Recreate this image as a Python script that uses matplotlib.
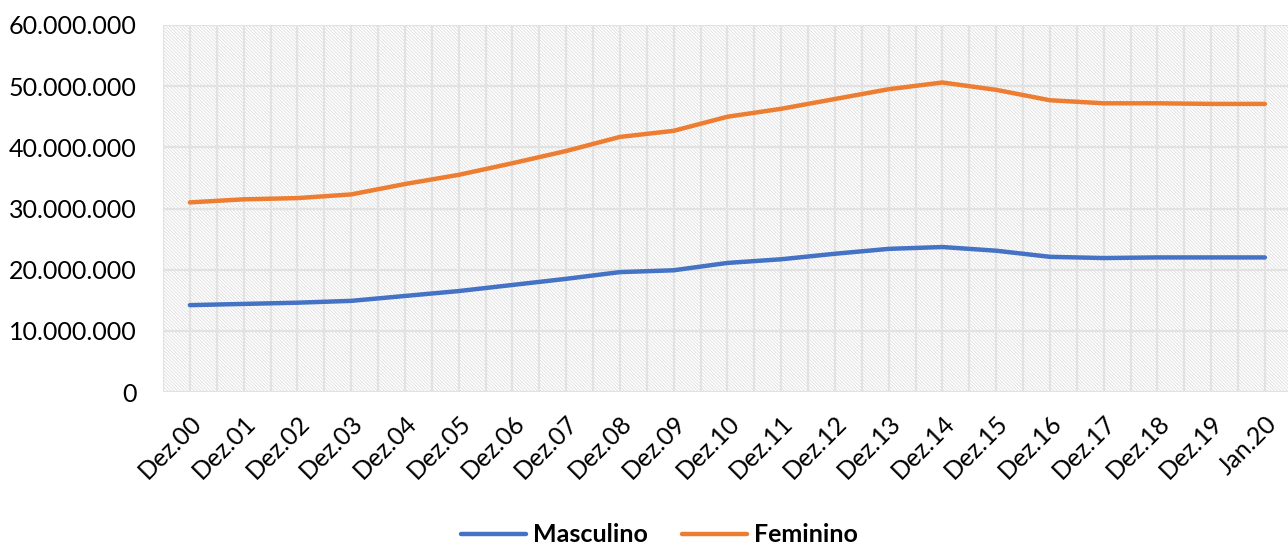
import matplotlib
matplotlib.use("Agg")
from matplotlib import pyplot as plt
from matplotlib.patches import Rectangle
from matplotlib.ticker import FuncFormatter, MultipleLocator

categories = ["Dez.00", "Dez.01", "Dez.02", "Dez.03", "Dez.04", "Dez.05", "Dez.06",
              "Dez.07", "Dez.08", "Dez.09", "Dez.10", "Dez.11", "Dez.12", "Dez.13",
              "Dez.14", "Dez.15", "Dez.16", "Dez.17", "Dez.18", "Dez.19", "Jan.20"]
masculino = [14.2, 14.4, 14.6, 14.9, 15.7, 16.5, 17.5, 18.5, 19.6, 19.9, 21.1,
             21.7, 22.6, 23.4, 23.7, 23.1, 22.1, 21.9, 22.0, 22.0, 22.0]
feminino = [31.0, 31.5, 31.7, 32.3, 34.0, 35.5, 37.4, 39.4, 41.7, 42.7, 45.0,
            46.3, 47.9, 49.5, 50.6, 49.4, 47.7, 47.2, 47.2, 47.1, 47.1]
masculino = [v * 1e6 for v in masculino]
feminino = [v * 1e6 for v in feminino]

plt.rcParams['font.family'] = ['Lato', 'DejaVu Sans']
plt.rcParams['hatch.linewidth'] = 0.5
plt.rcParams['hatch.color'] = '#d8d8d8'

fig = plt.figure(figsize=(12.88, 5.48), dpi=100)
ax = fig.add_axes([163 / 1288, 1 - 392 / 548, 1128.75 / 1288, 367 / 548])

# hatched background like the Excel pattern fill
bg = Rectangle((0, 0), 1, 1, transform=ax.transAxes, facecolor='white',
               edgecolor='#d8d8d8', hatch='\\' * 10, linewidth=0, zorder=0)
ax.add_patch(bg)

x = list(range(len(categories)))
ax.plot(x, masculino, color='#4472C4', lw=3.2, label='Masculino', zorder=3,
        solid_capstyle='round')
ax.plot(x, feminino, color='#ED7D31', lw=3.2, label='Feminino', zorder=3,
        solid_capstyle='round')

ax.set_xlim(-0.5, len(categories) - 0.5)
ax.set_ylim(0, 60e6)
ax.set_xticks(x)
ax.set_xticklabels(categories, rotation=45, ha='right', rotation_mode='anchor',
                   fontsize=18)
ax.xaxis.set_minor_locator(MultipleLocator(1, offset=0.5))
ax.yaxis.set_major_locator(MultipleLocator(10e6))
ax.yaxis.set_major_formatter(FuncFormatter(lambda v, p: f"{int(v):,}".replace(",", ".")))
ax.tick_params(axis='y', labelsize=18, length=0, pad=19)
ax.tick_params(axis='x', which='both', length=0, pad=14)

ax.grid(True, which='both', color='#e2e2e2', lw=1.6, zorder=1)
ax.set_axisbelow(True)
for s in ax.spines.values():
    s.set_visible(False)

leg = fig.legend(loc='center', bbox_to_anchor=(0.512, 1 - 535 / 548), ncol=2,
                 frameon=False, prop={'size': 18, 'weight': 'bold'},
                 handlelength=2.6, columnspacing=1.4, handletextpad=0.25)

fig.savefig("out.png", dpi=100)
